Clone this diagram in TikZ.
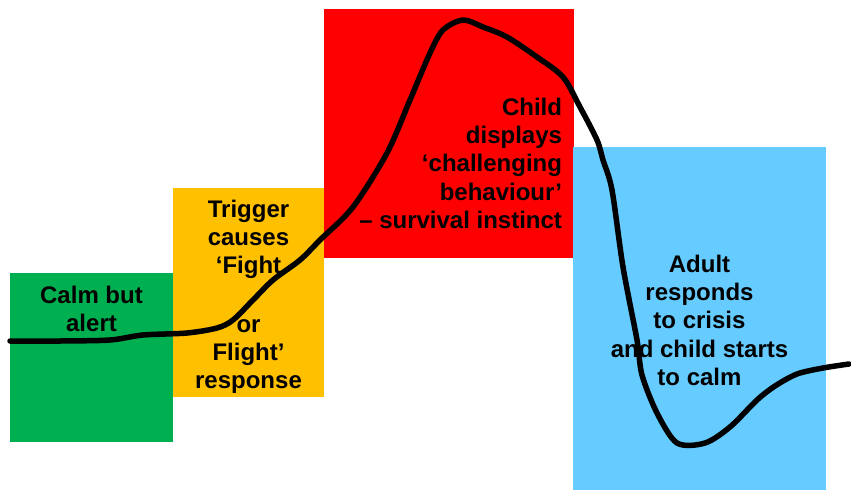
\documentclass[tikz,border=0pt]{standalone}
\usepackage{fontspec}
\setmainfont{Liberation Sans}
\definecolor{zgreen}{HTML}{00B050}
\definecolor{zyellow}{HTML}{FFC000}
\definecolor{zred}{HTML}{FF0000}
\definecolor{zblue}{HTML}{66CCFF}
\begin{document}
\begin{tikzpicture}[x=1pt,y=-1pt,
  zone/.style={draw=none,inner sep=0pt,outer sep=0pt,anchor=north west},
  label/.style={inner sep=0pt,outer sep=0pt,font=\bfseries\fontsize{24}{28.3}\selectfont,text=black},
  wave/.style={line width=5.5pt,line cap=round,line join=round}]
\useasboundingbox (0,0) rectangle (851,490);
\fill[white] (0,0) rectangle (851,490);
% zones
\node[zone,fill=zgreen,minimum width=163pt,minimum height=169pt] (calmzone) at (10,273) {};
\node[zone,fill=zyellow,minimum width=151pt,minimum height=209pt] (trigzone) at (173,188) {};
\node[zone,fill=zred,minimum width=250pt,minimum height=249pt] (childzone) at (324,9) {};
\node[zone,fill=zblue,minimum width=253pt,minimum height=343pt] (adultzone) at (573,147) {};
% labels
\node[label,align=center,anchor=north] (calmtext) at (91.5,286) {Calm but\\alert};
\node[label,align=center,anchor=north] (trigtext) at (248.5,200) {Trigger\\causes\\‘Fight\\[30pt]or\\Flight’\\response};
\node[label,align=right,anchor=north east] (childtext) at (562,98) {Child\\displays\\‘challenging\\behaviour’\\– survival instinct};
\node[label,align=center,anchor=north] (adulttext) at (699.5,255) {Adult\\responds\\to crisis\\and child starts\\to calm};
% curve
\draw[wave] plot[smooth,tension=0.5] coordinates {
 (10,341) (60,341) (110,340) (143,335) (187,333) (217,328) (233,320)
 (253,300) (273,280) (300,260) (320,240) (353,207) (387,153) (410,100)
 (430,53) (443,30) (463,20) (483,27) (507,37) (537,57) (563,77) (580,107)
 (597,140) (603,160) (612,190) (623,267) (637,340) (642,375) (657,413)
 (677,443) (705,443) (730,427) (757,400) (775,386) (797,374) (823,368) (849,364)};
\end{tikzpicture}
\end{document}
